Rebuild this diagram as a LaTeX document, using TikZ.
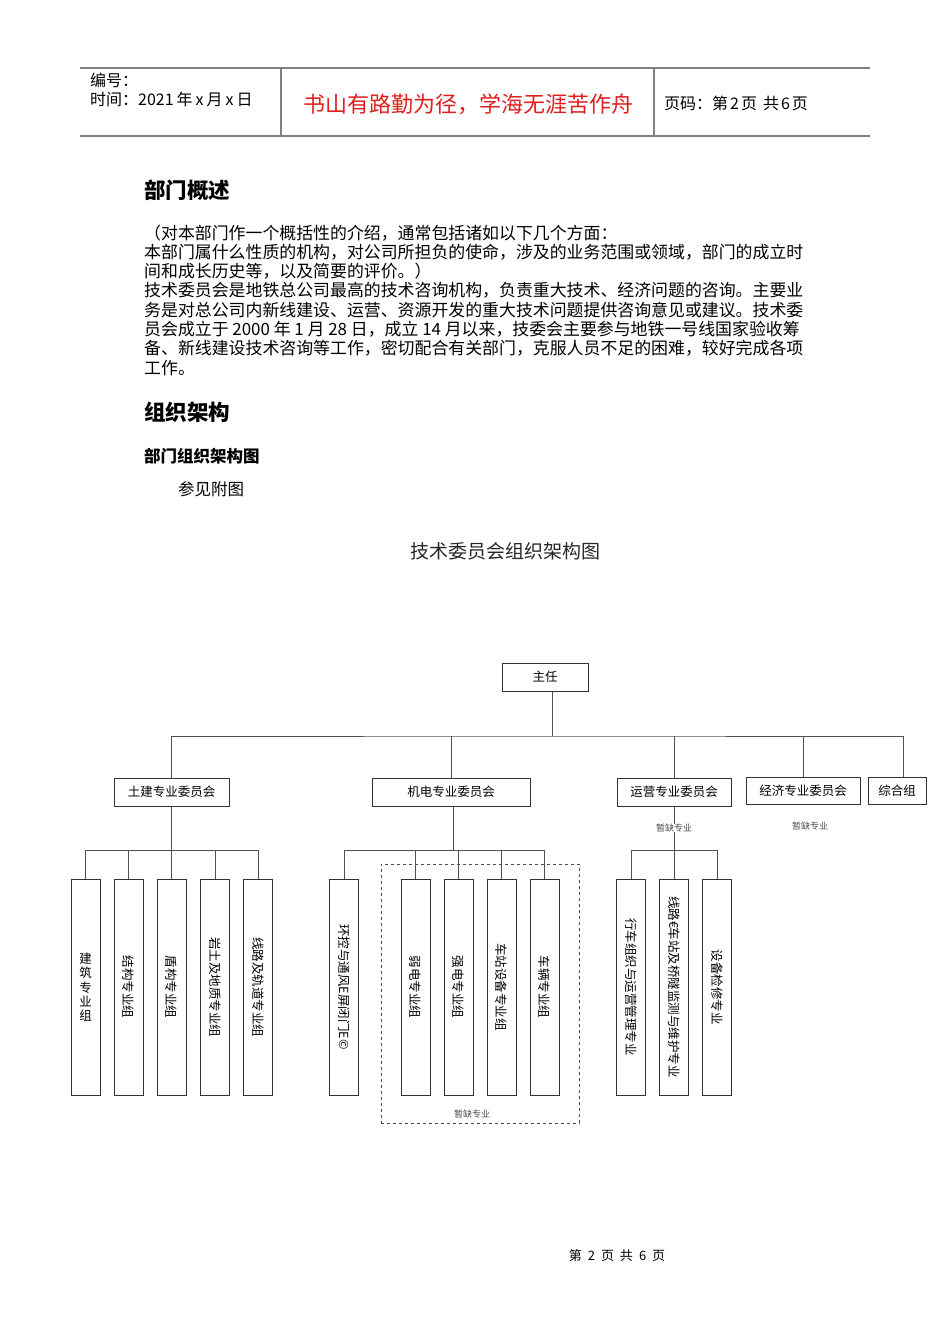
\documentclass[tikz,border=0pt]{standalone}
\usepackage{fontspec}
\setmainfont{Noto Sans CJK SC}
\usepackage{graphicx}
\definecolor{hdrred}{RGB}{225,30,30}
\definecolor{lngray}{RGB}{80,80,80}
\usetikzlibrary{positioning}

\begin{document}
\begin{tikzpicture}[x=1pt,y=-1pt,
  ln/.style={draw=lngray,line width=0.9pt},
  cbox/.style={draw=black!80,line width=1pt,minimum height=28pt,inner sep=0pt,font=\fontsize{12.5}{15}\selectfont},
  vbox/.style={draw=black!80,line width=1pt,minimum width=29pt,minimum height=216pt,inner sep=0pt,font=\fontsize{12.5}{17.5}\selectfont},
  body/.style={anchor=base west,inner sep=0pt,font=\fontsize{16.9}{19}\selectfont},
  hdr/.style={anchor=base west,inner sep=0pt,font=\fontsize{16}{18}\selectfont},
  note/.style={inner sep=0pt,font=\fontsize{9}{10}\selectfont,text=black!70}]
  \useasboundingbox (0,0) rectangle (950,1344);

  % page header
  \draw[line width=1.4pt,black!50] (80,68) -- (870,68) (80,136) -- (870,136);
  \draw[line width=1.2pt,black!50] (281,68) -- (281,136) (654,68) -- (654,136);
  \node[hdr] (bianhao) at (90,86) {编号：};
  \node[hdr] (shijian) at (90,105) {时间：2021\hspace{3pt}年\hspace{3pt}x\hspace{3pt}月\hspace{3pt}x\hspace{3pt}日};
  \node[inner sep=0pt,anchor=base,text=hdrred,font=\fontsize{22}{24}\selectfont] (motto) at (468,112) {书山有路勤为径，学海无涯苦作舟};
  \node[hdr] (yema) at (664,109) {页码：第\hspace{2pt}2\hspace{2pt}页\hspace{6pt}共\hspace{2pt}6\hspace{2pt}页};

  % text
  \node[body,font=\bfseries\fontsize{21.5}{24}\selectfont] (h1) at (144,198) {部门概述};
  \foreach \t [count=\i] in {{（对本部门作一个概括性的介绍，通常包括诸如以下几个方面：},
    {本部门属什么性质的机构，对公司所担负的使命，涉及的业务范围或领域，部门的成立时},
    {间和成长历史等，以及简要的评价。）},
    {技术委员会是地铁总公司最高的技术咨询机构，负责重大技术、经济问题的咨询。主要业},
    {务是对总公司内新线建设、运营、资源开发的重大技术问题提供咨询意见或建议。技术委},
    {员会成立于 2000 年 1 月 28 日，成立 14 月以来，技委会主要参与地铁一号线国家验收筹},
    {备、新线建设技术咨询等工作，密切配合有关部门，克服人员不足的困难，较好完成各项},
    {工作。}}
    \node[body] (p\i) at (144,{239+19.3*(\i-1)}) {\t};
  \node[body,font=\bfseries\fontsize{21.5}{24}\selectfont] (h2) at (144,420) {组织架构};
  \node[body,font=\bfseries\fontsize{16.5}{19}\selectfont] (h3) at (144,462) {部门组织架构图};
  \node[body,font=\fontsize{16.5}{19}\selectfont] (see) at (178,495) {参见附图};
  \node[inner sep=0pt,anchor=base,font=\fontsize{19}{21}\selectfont,text=black!85] (ctitle) at (505,558) {技术委员会组织架构图};

  % chart, top levels
  \node[cbox,minimum width=86pt] (zr) at (545,677) {主任};
  \node[cbox,minimum width=115pt] (tj) at (171.5,792) {土建专业委员会};
  \node[cbox,minimum width=158pt] (jd) at (451,792) {机电专业委员会};
  \node[cbox,minimum width=114pt] (yy) at (674,792) {运营专业委员会};
  \node[cbox,minimum width=114pt,minimum height=27pt] (jj) at (803,790.5) {经济专业委员会};
  \node[cbox,minimum width=58pt,minimum height=27pt] (zh) at (897,790.5) {综合组};
  \coordinate (bus) at (552,736);
  \draw[ln] (zr.south -| bus) -- (bus);
  \draw[ln] (tj.north) |- (bus) -| ([xshift=6pt]zh.north);
  \foreach \n in {jd,yy,jj} {\draw[ln] (\n.north) -- (\n.north |- bus);}
  \node[note] (yyq) at (674,828) {暂缺专业};
  \node[note] (jjq) at (810,826) {暂缺专业};

  % 土建
  \node[vbox] (t1) at (85.5,987) {\shortstack{建\\筑\\专\\业\\组}};
  \foreach \x/\t [count=\i from 2] in {128.5/结构专业组,171.5/盾构专业组,215/岩土及地质专业组,258/线路及轨道专业组}
    \node[vbox] (t\i) at (\x,987) {\rotatebox{-90}{\t}};
  \coordinate (tbus) at (171.5,850);
  \draw[ln] (tj.south) -- (tbus);
  \draw[ln] (t1.north) |- (tbus) -| (t5.north);
  \foreach \n in {t2,t3,t4} {\draw[ln] (\n.north) -- (\n.north |- tbus);}

  % 机电
  \node[draw=black!70,dashed,line width=0.8pt,minimum width=198pt,minimum height=259pt,inner sep=0pt] (qk) at (480,993.5) {};
  \foreach \x/\t [count=\i] in {344/环控与通风E屏闭门E©,415.5/弱电专业组,458.5/强电专业组,501.5/车站设备专业组,544.5/车辆专业组}
    \node[vbox] (j\i) at (\x,987) {\rotatebox{-90}{\t}};
  \node[note] (jq) at (472,1114) {暂缺专业};
  \coordinate (jbus) at (453,850);
  \draw[ln] (jd.south -| jbus) -- (jbus);
  \draw[ln] (j1.north) |- (jbus) -| (j5.north);
  \foreach \n in {j2,j3,j4} {\draw[ln] (\n.north) -- (\n.north |- jbus);}

  % 运营
  \foreach \x/\t [count=\i] in {631/行车组织与运营管理专业,674/线路€车站及桥隧监测与维护专业,717/设备检修专业}
    \node[vbox] (y\i) at (\x,987) {\rotatebox{-90}{\t}};
  \coordinate (ybus) at (674,850);
  \draw[ln] (yy.south) -- (yyq.north);
  \draw[ln] (yyq.south) -- (ybus);
  \draw[ln] (y1.north) |- (ybus) -| (y3.north);
  \draw[ln] (y2.north) -- (ybus);

  % page footer
  \node[inner sep=0pt,font=\fontsize{13}{15}\selectfont] (foot) at (617,1256) {第\hspace{6pt}2\hspace{6pt}页\hspace{6pt}共\hspace{6pt}6\hspace{6pt}页};
\end{tikzpicture}
\end{document}
